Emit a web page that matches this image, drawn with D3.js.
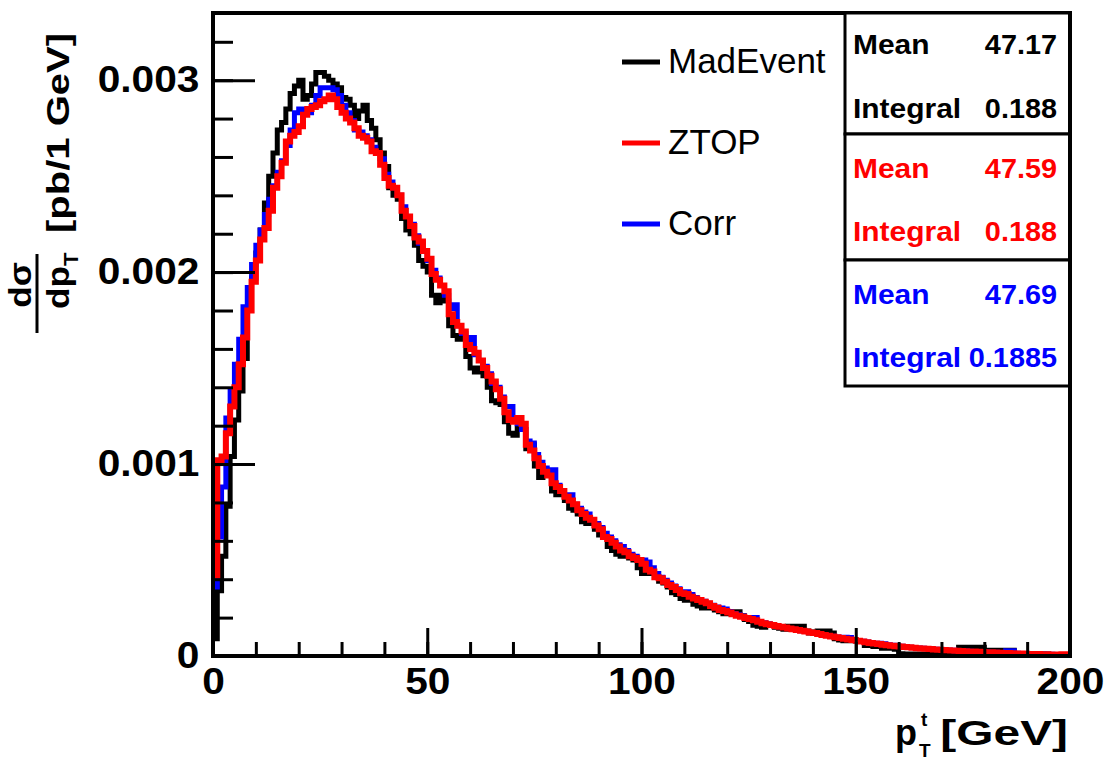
<!DOCTYPE html>
<html><head><meta charset="utf-8">
<script src="https://cdn.jsdelivr.net/npm/d3@7"></script>
<style>
html,body{margin:0;padding:0;background:#fff;}
svg{display:block;font-family:"Liberation Sans",Arial,Helvetica,sans-serif;}
</style></head>
<body>
<svg id="chart" width="1109" height="762"></svg>
<script>
// values in units of 1e-5 pb per 1 GeV bin, bins 0-1, 1-2, ..., 199-200 GeV
const UNIT = 1e-5;
const binWidth = 1;
const madEvent = [
 9,34,52,78,104,123,138,155,180,197,
 210,222,236,250,262,274,278,285,293,297,
 300,290,292,298,304,304,302,300,298,296,
 291,290,287,280,284,287,279,275,269,262,
 255,244,240,238,228,222,220,214,206,203,
 200,188,184,188,185,172,167,165,166,156,
 150,148,150,146,140,133,132,131,122,116,
 115,119,118,108,110,99,93,94,95,86,
 84,85,81,77,76,74,70,69,70,66,
 63,62,57,55,53,52,52,51,50,46,
 43,44,43,43,39,38,36,33,32,30,
 29,29,27,26,25,25,25,24,23,22,
 22,23,23,21,19,18,16,15.5,15,16,
 16,15,14.5,14,15.5,15.5,15.5,15.5,13,12,
 12.5,13,13,13,12,9,8.3,8,8,8.5,
 8,7.5,5.5,5.5,5,5,4,4,4,3.5,
 1.2,1,1,1,1,1,1,1,1.2,2.3,
 2.3,2.3,2.3,2.5,4.5,4.5,4.5,4.5,4.5,4.5,
 3,3,3,3,3,3,3,1,1,1,
 1,1,1,1,1,0.6,0.6,0.6,0.6,0.6
];
const ztop = [
 42,102,104,116,130,140,152,166,180,195,
 206,217,223,232,244,250,257,268,271,273,
 276,282,285,286,287,289,290,292,290,286,
 283,280,278,275,271,270,268,263,262,256,
 249,245,244,240,232,229,224,218,216,211,
 207,199,196,193,190,178,174,172,169,162,
 160,158,154,150,146,143,139,134,127,123,
 122,124,121,110,107,103,99,96,94,90,
 88,86,83,81,79,76,74,72,71,68,
 66,62,61,59,57,55,54,52,51,50,
 48,45,44,41,40.5,38.7,37,36,34.4,32.7,
 32.3,30.9,30,29.2,28.2,27.5,26.1,25.2,24,23.5,
 22.6,21.7,21,20.5,19.8,19.3,18.6,17.9,17,16.5,
 16.2,15.6,15.3,14.8,14.3,13.9,13.5,13.1,12.7,12.3,
 12,11.5,11,10.6,10.2,9.8,9.4,9,8.6,8.3,
 7.9,7.5,7.2,6.8,6.5,6.2,5.9,5.6,5.4,5.1,
 4.9,4.7,4.5,4.3,4.1,3.9,3.8,3.6,3.4,3.3,
 3.1,3.0,2.9,2.7,2.6,2.5,2.4,2.3,2.2,2.1,
 2.0,1.9,1.8,1.7,1.6,1.5,1.4,1.3,1.3,1.2,
 1.1,1.1,1.0,0.9,0.9,0.8,0.8,0.7,0.9,0.6
];
const corr = [
 36,62,88,124,138,152,165,182,192,204,
 214,222,230,238,245,252,258,266,274,283,
 285,284,283,287,292,296,296,296,295,292,
 287,283,279,274,273,271,269,265,262,259,
 251,247,244,240,234,229,225,219,215,211,
 206,201,197,193,188,181,183,172,168,164,
 166,157,154,151,147,142,140,135,130,130,
 123,121,118,112,111,105,101,98,95,97,
 89,86,84,84,79,77,75,74,71,69,
 67,64,62,60,58,57,55,53,52,50,
 50,49,46,43,41,39.5,38,36.5,35,33.5,
 33.5,32,30.5,29.5,28.5,27.5,26.5,25.5,25,24.5,
 23,22.2,21.5,20.8,20.1,19.4,20,18,17.3,16.8,
 16.3,15.8,15.3,14.8,14.3,13.9,13.5,13.1,12.7,12.3,
 11.9,11.5,11.1,10.7,10.3,9.9,9.5,9.8,9.6,8.4,
 8.0,7.7,7.3,7.0,6.7,6.6,6.4,5.8,5.6,5.3,
 5.1,4.8,4.6,4.4,4.2,4.0,3.9,3.7,3.5,3.4,
 3.2,3.1,3.0,2.8,2.7,2.6,2.5,2.4,2.3,2.2,
 2.1,2.0,1.9,1.8,1.7,2.8,2.8,1.4,1.3,1.3,
 1.2,1.1,1.1,1.0,0.9,0.9,0.8,0.8,0.7,0.7
];
const seriesNames = ["MadEvent","ZTOP","Corr"];
const seriesColors = ["#000000","#ff0000","#0000ff"];
const statMeans = ["47.17","47.59","47.69"];
const statIntegrals = ["0.188","0.188","0.1885"];
const xMajorTicks = [0,50,100,150,200];
const xMinorTicks = d3.range(0,201,10);
const yMajorTicks = [0,0.001,0.002,0.003];
const yMinorTicks = d3.range(0,17).map(i=>i*0.0002);
const xDomain = [0,200];
const yDomain = [0,0.00335];

const svg = d3.select("#chart");
const L=213, R=1070, T=13, B=656;
const x = d3.scaleLinear().domain(xDomain).range([L,R]);
const y = d3.scaleLinear().domain(yDomain).range([B,T]);

svg.append("defs").append("clipPath").attr("id","clip")
  .append("rect").attr("x",L).attr("y",T).attr("width",R-L).attr("height",B-T);

function stepPath(vals){
  let p = d3.path();
  vals.forEach((v,i)=>{
    const x0 = x(i*binWidth), x1 = x((i+1)*binWidth), yy = y(v*UNIT);
    if(i===0) p.moveTo(x0,yy); else p.lineTo(x0,yy);
    p.lineTo(x1,yy);
  });
  return p.toString();
}
const plot = svg.append("g").attr("clip-path","url(#clip)");
const drawOrder = [[madEvent,0,5],[corr,2,5],[ztop,1,6]];
drawOrder.forEach(([vals,ci,w])=>{
  plot.append("path").attr("d",stepPath(vals)).attr("fill","none")
    .attr("stroke",seriesColors[ci]).attr("stroke-width",w)
    .attr("stroke-linejoin","miter").attr("stroke-linecap","butt");
});

// axes
const tickFont = 36, tickStretch = 1.13;
const gxMinor = svg.append("g").attr("transform",`translate(0,${B})`)
  .call(d3.axisBottom(x).tickValues(xMinorTicks).tickSizeInner(-14).tickSizeOuter(0).tickFormat(""));
const gxMajor = svg.append("g").attr("transform",`translate(0,${B})`)
  .call(d3.axisBottom(x).tickValues(xMajorTicks).tickSizeInner(-28).tickSizeOuter(0).tickPadding(12).tickFormat(d3.format("d")));
const gyMinor = svg.append("g").attr("transform",`translate(${L},0)`)
  .call(d3.axisLeft(y).tickValues(yMinorTicks).tickSizeInner(-20).tickSizeOuter(0).tickFormat(""));
const gyMajor = svg.append("g").attr("transform",`translate(${L},0)`)
  .call(d3.axisLeft(y).tickValues(yMajorTicks).tickSizeInner(-42).tickSizeOuter(0).tickPadding(12)
    .tickFormat(d=> d===0 ? "0" : d3.format(".3f")(d)));
[gxMinor,gxMajor,gyMinor,gyMajor].forEach(g=>{
  g.select(".domain").remove();
  g.selectAll(".tick line").attr("stroke","#000").attr("stroke-width",3);
  g.selectAll("text").attr("fill","#000").attr("font-size",tickFont).attr("font-weight","bold")
    .attr("font-family",'"Liberation Sans",Arial,sans-serif')
    .attr("transform",`scale(${tickStretch},1)`);
});

// frame
svg.append("rect").attr("x",L).attr("y",T).attr("width",R-L).attr("height",B-T)
  .attr("fill","none").attr("stroke","#000").attr("stroke-width",4);

// legend
const legY = [62,143,224];
seriesNames.forEach((n,i)=>{
  svg.append("line").attr("x1",622).attr("x2",660).attr("y1",legY[i]).attr("y2",legY[i])
    .attr("stroke",seriesColors[i]).attr("stroke-width",5);
  svg.append("text").attr("x",668).attr("y",legY[i]+11).attr("font-size",35)
    .attr("fill","#000").text(n);
});

// stats boxes
const boxTop=[T,134,260], boxBot=[134,260,386];
seriesNames.forEach((n,i)=>{
  svg.append("rect").attr("x",845).attr("y",boxTop[i]).attr("width",R-845).attr("height",boxBot[i]-boxTop[i])
    .attr("fill","#fff").attr("stroke","#000").attr("stroke-width",3);
  const b1 = boxTop[i] + (i===0?41:44), b2 = boxTop[i] + (i===0?105:107);
  [[ "Mean", statMeans[i], b1],["Integral", statIntegrals[i], b2]].forEach(([lab,val,by])=>{
    svg.append("text").attr("transform",`translate(853,${by}) scale(1.07,1)`).attr("font-size",28).attr("font-weight","bold")
      .attr("fill",seriesColors[i]).text(lab);
    svg.append("text").attr("transform",`translate(1057,${by}) scale(1.03,1)`).attr("font-size",28).attr("font-weight","bold")
      .attr("text-anchor","end").attr("fill",seriesColors[i]).text(val);
  });
});
// redraw right frame edge on top
svg.append("line").attr("x1",R).attr("x2",R).attr("y1",T).attr("y2",B).attr("stroke","#000").attr("stroke-width",4);

// x title
const xt = svg.append("g").attr("font-weight","bold").attr("fill","#000");
xt.append("text").attr("x",895).attr("y",745).attr("font-size",36).text("p");
xt.append("text").attr("x",921).attr("y",726).attr("font-size",19).text("t");
xt.append("text").attr("x",919).attr("y",757).attr("font-size",19).text("T");
xt.append("text").attr("transform","translate(1068,745) scale(1.33,1)").attr("font-size",36).attr("text-anchor","end").text("[GeV]");

// y title (rotated)
const yt = svg.append("g").attr("transform","rotate(-90)").attr("font-weight","bold").attr("fill","#000");
yt.append("text").attr("transform","translate(-285,31) scale(1.1,1)").attr("font-size",32).attr("text-anchor","middle").text("dσ");
yt.append("line").attr("x1",-254).attr("x2",-333).attr("y1",37).attr("y2",37).attr("stroke","#000").attr("stroke-width",3);
const dp = yt.append("text").attr("transform","translate(-309,69) scale(1.1,1)").attr("font-size",32);
dp.append("tspan").text("dp");
dp.append("tspan").attr("dy",9).attr("font-size",20).text("T");
yt.append("text").attr("transform","translate(-133,69) scale(1.25,1)").attr("font-size",32).attr("text-anchor","middle").text("[pb/1 GeV]");
</script>
</body></html>
